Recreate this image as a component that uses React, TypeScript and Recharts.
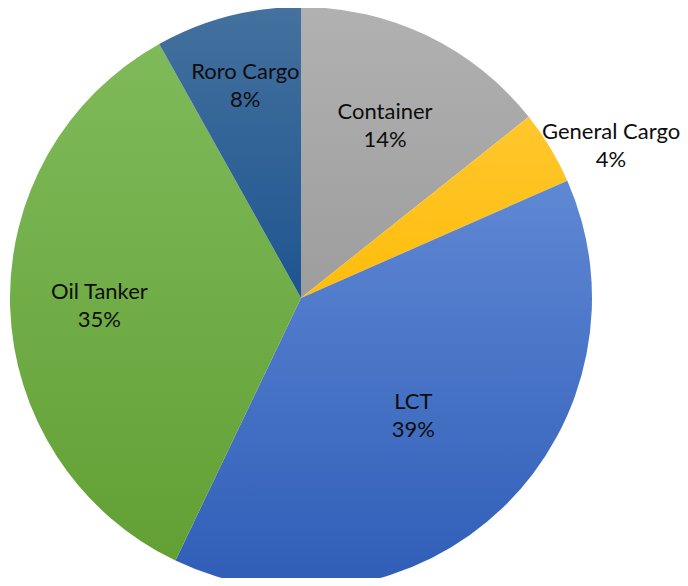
import React from 'react';
import { PieChart, Pie, Cell } from 'recharts';

const categories = ['Container', 'General Cargo', 'LCT', 'Oil Tanker', 'Roro Cargo'];
const shares = [14.3, 4.1, 38.7, 34.8, 8.1];
const percentLabels = ['14%', '4%', '39%', '35%', '8%'];

// gradient stops per slice, top -> bottom
const COLORS: [string, string][] = [
  ['#b1b1b1', '#9d9d9d'],
  ['#ffc72e', '#ffbd0a'],
  ['#5f88d4', '#2f5db7'],
  ['#7fba5a', '#62a034'],
  ['#44719e', '#1e5590'],
];

// label placement: fraction of radius, and angle nudge in degrees
const LABEL_RADIUS = [0.665, 1.19, 0.555, 0.693, 0.76];
const LABEL_SHIFT = [0, -4.7, 0, 0, 0];

const data = categories.map((name, i) => ({ name, value: shares[i], pct: percentLabels[i] }));

const RADIAN = Math.PI / 180;

function renderLabel(props: any) {
  const { cx, cy, midAngle, outerRadius, index } = props;
  const r = outerRadius * LABEL_RADIUS[index];
  const a = (midAngle + LABEL_SHIFT[index]) * RADIAN;
  const x = cx + r * Math.cos(-a);
  const y = cy + r * Math.sin(-a);
  return (
    <text
      x={x}
      y={y}
      textAnchor="middle"
      fill="#0d0d0d"
      fontSize={22}
      fontFamily="Lato, 'Open Sans', sans-serif"
    >
      <tspan x={x} dy={-5}>{categories[index]}</tspan>
      <tspan x={x} dy={28}>{percentLabels[index]}</tspan>
    </text>
  );
}

export default function App() {
  return (
    <div style={{ margin: -8, width: 688, height: 586, background: '#fff', overflow: 'hidden' }}>
      <PieChart width={688} height={586} margin={{ top: 0, right: 0, bottom: 0, left: 0 }}>
        <defs>
          {COLORS.map((c, i) => (
            <linearGradient key={i} id={`grad${i}`} x1="0" y1="0" x2="0" y2="1">
              <stop offset="0%" stopColor={c[0]} />
              <stop offset="100%" stopColor={c[1]} />
            </linearGradient>
          ))}
        </defs>
        <Pie
          data={data}
          dataKey="value"
          nameKey="name"
          cx={301}
          cy={298}
          outerRadius={291}
          startAngle={90}
          endAngle={-270}
          stroke="none"
          label={renderLabel}
          labelLine={false}
          isAnimationActive={false}
        >
          {data.map((d, i) => (
            <Cell key={d.name} fill={`url(#grad${i})`} />
          ))}
        </Pie>
      </PieChart>
    </div>
  );
}
